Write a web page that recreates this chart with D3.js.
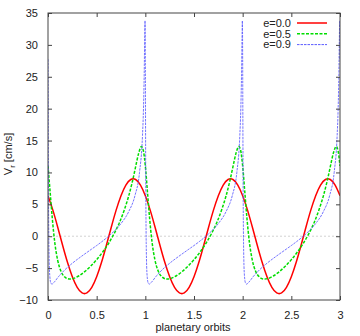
<!DOCTYPE html>
<html>
<head>
<meta charset="utf-8">
<script src="https://cdn.jsdelivr.net/npm/d3@7"></script>
<style>
  body { margin: 0; background: #fff; }
  svg { display: block; font-family: "Liberation Sans", Arial, sans-serif; }
</style>
</head>
<body>
<svg id="chart" width="360" height="336"></svg>
<script>
// e = 0.0, sampled every 0.05 orbit
const orbitsE0 = [
  0, 0.05, 0.1, 0.15, 0.2, 0.25, 0.3, 0.35, 0.4, 0.45, 0.5, 0.55, 0.6, 0.65, 0.7, 0.75, 0.8, 0.85, 0.9, 0.95,
  1, 1.05, 1.1, 1.15, 1.2, 1.25, 1.3, 1.35, 1.4, 1.45, 1.5, 1.55, 1.6, 1.65, 1.7, 1.75, 1.8, 1.85, 1.9, 1.95,
  2, 2.05, 2.1, 2.15, 2.2, 2.25, 2.3, 2.35, 2.4, 2.45, 2.5, 2.55, 2.6, 2.65, 2.7, 2.75, 2.8, 2.85, 2.9, 2.95, 3
];
const vrE0 = [
  6.36, 4.09, 1.41, -1.41, -4.09, -6.36, -8.02, -8.89, -8.89, -8.02, -6.36, -4.09, -1.41, 1.41, 4.09, 6.36, 8.02, 8.89, 8.89, 8.02,
  6.36, 4.09, 1.41, -1.41, -4.09, -6.36, -8.02, -8.89, -8.89, -8.02, -6.36, -4.09, -1.41, 1.41, 4.09, 6.36, 8.02, 8.89, 8.89, 8.02,
  6.36, 4.09, 1.41, -1.41, -4.09, -6.36, -8.02, -8.89, -8.89, -8.02, -6.36, -4.09, -1.41, 1.41, 4.09, 6.36, 8.02, 8.89, 8.89, 8.02, 6.36
];

// e = 0.5
const orbitsE5 = [
  0, 0.021, 0.044, 0.069, 0.098, 0.131, 0.170, 0.215, 0.227, 0.264, 0.319, 0.377, 0.438, 0.5, 0.562, 0.623, 0.681, 0.736, 0.785, 0.830, 0.869, 0.902, 0.931, 0.961, 0.979,
  1, 1.021, 1.044, 1.069, 1.098, 1.131, 1.170, 1.215, 1.227, 1.264, 1.319, 1.377, 1.438, 1.5, 1.562, 1.623, 1.681, 1.736, 1.785, 1.830, 1.869, 1.902, 1.931, 1.961, 1.979,
  2, 2.021, 2.044, 2.069, 2.098, 2.131, 2.170, 2.215, 2.227, 2.264, 2.319, 2.377, 2.438, 2.5, 2.562, 2.623, 2.681, 2.736, 2.785, 2.830, 2.869, 2.902, 2.931, 2.961, 2.979,
  3
];
const vrE5 = [
  11.02, 7.11, 2.81, -0.93, -3.67, -5.42, -6.36, -6.71, -6.72, -6.61, -6.20, -5.55, -4.70, -3.67, -2.48, -1.11, 0.45, 2.20, 4.18, 6.36, 8.70, 11.02, 12.99, 14.07, 13.48,
  11.02, 7.11, 2.81, -0.93, -3.67, -5.42, -6.36, -6.71, -6.72, -6.61, -6.20, -5.55, -4.70, -3.67, -2.48, -1.11, 0.45, 2.20, 4.18, 6.36, 8.70, 11.02, 12.99, 14.07, 13.48,
  11.02, 7.11, 2.81, -0.93, -3.67, -5.42, -6.36, -6.71, -6.72, -6.61, -6.20, -5.55, -4.70, -3.67, -2.48, -1.11, 0.45, 2.20, 4.18, 6.36, 8.70, 11.02, 12.99, 14.07, 13.48,
  11.02
];

// e = 0.9
const orbitsE9 = [
  0, 0.0014, 0.0029, 0.0046, 0.0066, 0.0089, 0.0117, 0.019, 0.0292, 0.0396, 0.0598, 0.1068, 0.171, 0.2514, 0.345, 0.4473, 0.5, 0.5527, 0.655, 0.7486, 0.829, 0.8932, 0.9402, 0.9708, 0.981, 0.9883, 0.9934, 0.9968, 0.9986,
  1, 1.0014, 1.0029, 1.0046, 1.0066, 1.0089, 1.0117, 1.019, 1.0292, 1.0396, 1.0598, 1.1068, 1.171, 1.2514, 1.345, 1.4473, 1.5, 1.5527, 1.655, 1.7486, 1.829, 1.8932, 1.9402, 1.9708, 1.981, 1.9883, 1.9934, 1.9968, 1.9986,
  2, 2.0014, 2.0029, 2.0046, 2.0066, 2.0089, 2.0117, 2.019, 2.0292, 2.0396, 2.0598, 2.1068, 2.171, 2.2514, 2.345, 2.4473, 2.5, 2.5527, 2.655, 2.7486, 2.829, 2.8932, 2.9402, 2.9708, 2.981, 2.9883, 2.9934, 2.9968, 2.9986,
  3
];
const vrE9 = [
  27.74, 21.36, 14.31, 7.90, 2.79, -0.95, -3.54, -6.33, -7.34, -7.51, -7.27, -6.36, -5.30, -4.22, -3.14, -2.03, -1.46, -0.86, 0.44, 1.96, 3.85, 6.36, 10.01, 15.80, 20.01, 25.32, 31.00, 33.79, 32.08,
  27.74, 21.36, 14.31, 7.90, 2.79, -0.95, -3.54, -6.33, -7.34, -7.51, -7.27, -6.36, -5.30, -4.22, -3.14, -2.03, -1.46, -0.86, 0.44, 1.96, 3.85, 6.36, 10.01, 15.80, 20.01, 25.32, 31.00, 33.79, 32.08,
  27.74, 21.36, 14.31, 7.90, 2.79, -0.95, -3.54, -6.33, -7.34, -7.51, -7.27, -6.36, -5.30, -4.22, -3.14, -2.03, -1.46, -0.86, 0.44, 1.96, 3.85, 6.36, 10.01, 15.80, 20.01, 25.32, 31.00, 33.79, 32.08,
  27.74
];

const seriesNames = ["e=0.0", "e=0.5", "e=0.9"];
const xTicks = [0, 0.5, 1, 1.5, 2, 2.5, 3];
const yTicks = [-10, -5, 0, 5, 10, 15, 20, 25, 30, 35];

const svg = d3.select("#chart");
const margin = { left: 48, right: 20, top: 13, bottom: 36 };
const width = +svg.attr("width");
const height = +svg.attr("height");
const fontSize = "11px";

const x = d3.scaleLinear().domain([0, 3]).range([margin.left, width - margin.right]);
const y = d3.scaleLinear().domain([-10, 35]).range([height - margin.bottom, margin.top]);

const styles = [
  { color: "#ff0000", width: 1.5, dash: null, curve: d3.curveNatural },
  { color: "#00dd00", width: 1.5, dash: "3,1.5", curve: d3.curveMonotoneX },
  { color: "#5c5cff", width: 1, dash: "2.5,1", curve: d3.curveMonotoneX },
];

const series = [
  orbitsE0.map((o, i) => ({ o, v: vrE0[i] })),
  orbitsE5.map((o, i) => ({ o, v: vrE5[i] })),
  orbitsE9.map((o, i) => ({ o, v: vrE9[i] })),
];

// zero line
svg.append("line")
  .attr("x1", x(0)).attr("x2", x(3))
  .attr("y1", y(0)).attr("y2", y(0))
  .attr("stroke", "#c8c8c8")
  .attr("stroke-width", 0.8)
  .attr("stroke-dasharray", "2,2");

svg.append("clipPath").attr("id", "plot-clip")
  .append("rect")
  .attr("x", x(0)).attr("y", y(35))
  .attr("width", x(3) - x(0)).attr("height", y(-10) - y(35));

const lines = svg.append("g").attr("clip-path", "url(#plot-clip)");
series.forEach((d, i) => {
  const s = styles[i];
  const gen = d3.line().x((p) => x(p.o)).y((p) => y(p.v)).curve(s.curve);
  lines.append("path")
    .attr("d", gen(d))
    .attr("fill", "none")
    .attr("stroke", s.color)
    .attr("stroke-width", s.width)
    .attr("stroke-dasharray", s.dash)
    .attr("opacity", i === 2 ? 0.85 : 1);
});

// axes, ticks inside on all four sides
const fmt = (d) => d3.format("")(d);
const axisStyle = (g) => {
  g.select(".domain").remove();
  g.selectAll(".tick line").attr("stroke", "#444");
  g.selectAll(".tick text").attr("fill", "#222").style("font-size", fontSize);
};

svg.append("g")
  .attr("transform", `translate(0,${y(-10)})`)
  .call(d3.axisBottom(x).tickValues(xTicks).tickFormat(fmt).tickSizeInner(-4).tickPadding(11))
  .call(axisStyle);

svg.append("g")
  .attr("transform", `translate(0,${y(35)})`)
  .call(d3.axisTop(x).tickValues(xTicks).tickFormat("").tickSizeInner(-4))
  .call(axisStyle);

svg.append("g")
  .attr("transform", `translate(${x(0)},0)`)
  .call(d3.axisLeft(y).tickValues(yTicks).tickFormat(fmt).tickSizeInner(-4).tickPadding(10))
  .call(axisStyle);

svg.append("g")
  .attr("transform", `translate(${x(3)},0)`)
  .call(d3.axisRight(y).tickValues(yTicks).tickFormat("").tickSizeInner(-4))
  .call(axisStyle);

svg.selectAll("g text").attr("font-family", null);

// frame
svg.append("rect")
  .attr("x", x(0)).attr("y", y(35))
  .attr("width", x(3) - x(0)).attr("height", y(-10) - y(35))
  .attr("fill", "none")
  .attr("stroke", "#444")
  .attr("stroke-width", 1);

// axis labels
svg.append("text")
  .attr("x", 193)
  .attr("y", 331)
  .attr("text-anchor", "middle")
  .attr("fill", "#222")
  .style("font-size", fontSize)
  .text("planetary orbits");

const yLabel = svg.append("text")
  .attr("transform", `translate(12,154) rotate(-90)`)
  .attr("text-anchor", "middle")
  .attr("fill", "#222")
  .style("font-size", fontSize);
yLabel.append("tspan").text("V");
yLabel.append("tspan").attr("dy", 3).style("font-size", "8px").text("r");
yLabel.append("tspan").attr("dy", -3).text(" [cm/s]");

// legend
const legend = svg.append("g");
seriesNames.forEach((name, i) => {
  const s = styles[i];
  const ly = 23 + i * 10.8;
  legend.append("text")
    .attr("x", 291).attr("y", ly)
    .attr("dy", "0.35em")
    .attr("text-anchor", "end")
    .attr("fill", "#222")
    .style("font-size", fontSize)
    .text(name);
  legend.append("line")
    .attr("x1", 297).attr("x2", 327)
    .attr("y1", ly).attr("y2", ly)
    .attr("stroke", s.color)
    .attr("stroke-width", s.width)
    .attr("stroke-dasharray", s.dash);
});
</script>
</body>
</html>
